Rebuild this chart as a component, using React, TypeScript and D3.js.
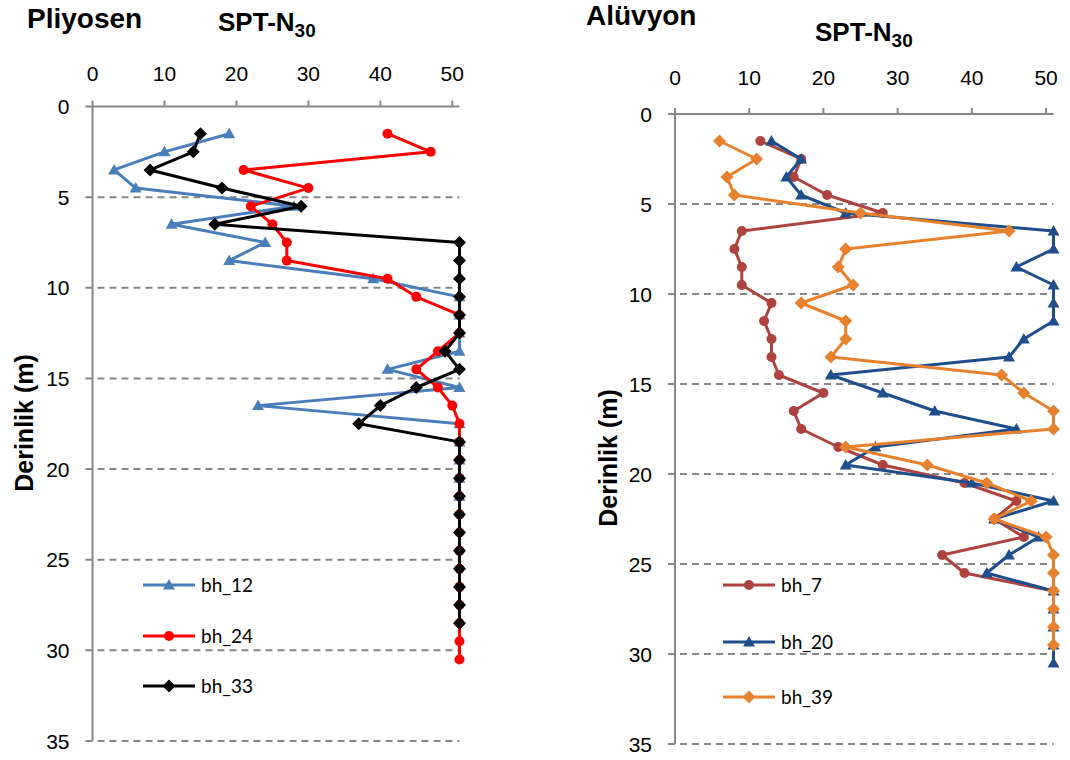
import React from "react";
import * as d3 from "d3";

// depth (m) and SPT-N30 readings per borehole
const bh12Depth = [1.5, 2.5, 3.5, 4.5, 5.5, 6.5, 7.5, 8.5, 9.5, 10.5, 11.5, 12.5, 13.5, 14.5, 15.5, 16.5, 17.5, 18.5, 19.5, 20.5, 21.5];
const bh12N = [19, 10, 3, 6, 28, 11, 24, 19, 39, 51, 51, 51, 51, 41, 51, 23, 51, 51, 51, 51, 51];

const bh24Depth = [1.5, 2.5, 3.5, 4.5, 5.5, 6.5, 7.5, 8.5, 9.5, 10.5, 11.5, 12.5, 13.5, 14.5, 15.5, 16.5, 17.5, 18.5, 19.5, 20.5, 21.5, 22.5, 23.5, 24.5, 25.5, 26.5, 27.5, 28.5, 29.5, 30.5];
const bh24N = [41, 47, 21, 30, 22, 25, 27, 27, 41, 45, 51, 51, 48, 45, 48, 50, 51, 51, 51, 51, 51, 51, 51, 51, 51, 51, 51, 51, 51, 51];

const bh33Depth = [1.5, 2.5, 3.5, 4.5, 5.5, 6.5, 7.5, 8.5, 9.5, 10.5, 11.5, 12.5, 13.5, 14.5, 15.5, 16.5, 17.5, 18.5, 19.5, 20.5, 21.5, 22.5, 23.5, 24.5, 25.5, 26.5, 27.5, 28.5];
const bh33N = [15, 14, 8, 18, 29, 17, 51, 51, 51, 51, 51, 51, 49, 51, 45, 40, 37, 51, 51, 51, 51, 51, 51, 51, 51, 51, 51, 51];

const bh7Depth = [1.5, 2.5, 3.5, 4.5, 5.5, 6.5, 7.5, 8.5, 9.5, 10.5, 11.5, 12.5, 13.5, 14.5, 15.5, 16.5, 17.5, 18.5, 19.5, 20.5, 21.5, 22.5, 23.5, 24.5, 25.5, 26.5];
const bh7N = [11.5, 17, 16, 20.5, 28, 9, 8, 9, 9, 13, 12, 13, 13, 14, 20, 16, 17, 22, 28, 39, 46, 43, 47, 36, 39, 51];

const bh20Depth = [1.5, 2.5, 3.5, 4.5, 5.5, 6.5, 7.5, 8.5, 9.5, 10.5, 11.5, 12.5, 13.5, 14.5, 15.5, 16.5, 17.5, 18.5, 19.5, 20.5, 21.5, 22.5, 23.5, 24.5, 25.5, 26.5, 27.5, 28.5, 29.5, 30.5];
const bh20N = [13, 17, 15, 17, 23, 51, 51, 46, 51, 51, 51, 47, 45, 21, 28, 35, 46, 27, 23, 40, 51, 43, 49, 45, 42, 51, 51, 51, 51, 51];

const bh39Depth = [1.5, 2.5, 3.5, 4.5, 5.5, 6.5, 7.5, 8.5, 9.5, 10.5, 11.5, 12.5, 13.5, 14.5, 15.5, 16.5, 17.5, 18.5, 19.5, 20.5, 21.5, 22.5, 23.5, 24.5, 25.5, 26.5, 27.5, 28.5, 29.5];
const bh39N = [6, 11, 7, 8, 25, 45, 23, 22, 24, 17, 23, 23, 21, 44, 47, 51, 51, 23, 34, 42, 48, 43, 50, 51, 51, 51, 51, 51, 51];

const xTicks = [0, 10, 20, 30, 40, 50];
const yTicks = [0, 5, 10, 15, 20, 25, 30, 35];

const AXIS = "#878787";
const FONT = "'Liberation Sans', Arial, sans-serif";

type Series = { name: string; depth: number[]; n: number[]; color: string; marker: string };

const leftSeries: Series[] = [
  { name: "bh_12", depth: bh12Depth, n: bh12N, color: "#4A7EBB", marker: "triangle" },
  { name: "bh_24", depth: bh24Depth, n: bh24N, color: "#FF0000", marker: "circle" },
  { name: "bh_33", depth: bh33Depth, n: bh33N, color: "#000000", marker: "diamond" },
];

const rightSeries: Series[] = [
  { name: "bh_7", depth: bh7Depth, n: bh7N, color: "#AE423E", marker: "circle" },
  { name: "bh_20", depth: bh20Depth, n: bh20N, color: "#1F4E8C", marker: "triangle" },
  { name: "bh_39", depth: bh39Depth, n: bh39N, color: "#E8812E", marker: "diamond" },
];

const Marker = ({ kind, x, y, color }: { kind: string; x: number; y: number; color: string }) => {
  if (kind === "circle") return <circle cx={x} cy={y} r={5} fill={color} />;
  if (kind === "diamond")
    return <path d={`M${x},${y - 6.5}L${x + 6.5},${y}L${x},${y + 6.5}L${x - 6.5},${y}Z`} fill={color} />;
  return <path d={`M${x},${y - 6}L${x + 6},${y + 4.5}L${x - 6},${y + 4.5}Z`} fill={color} />;
};

const Panel = (props: {
  x0: number; x1: number; y0: number; y1: number;
  title: string; titleX: number; titleY: number;
  sptX: number; sptY: number; tickY: number;
  labelX: number; labelY: number;
  series: Series[]; legX: number; legY: number[];
}) => {
  const { x0, x1, y0, y1, series } = props;
  const x = d3.scaleLinear().domain([0, 51]).range([x0, x1]);
  const y = d3.scaleLinear().domain([0, 35]).range([y0, y1]);
  const line = d3.line<[number, number]>().x((d) => x(d[0])).y((d) => y(d[1]));

  return (
    <g fontFamily={FONT}>
      <text x={props.titleX} y={props.titleY} fontSize={28} fontWeight="bold">{props.title}</text>
      <text x={props.sptX} y={props.sptY} fontSize={26} fontWeight="bold">
        SPT-N<tspan fontSize={19} dy={6}>30</tspan>
      </text>

      {/* gridlines */}
      {yTicks.slice(1).map((t) => (
        <line key={"g" + t} x1={x0 - 7} x2={x1} y1={y(t)} y2={y(t)} stroke={AXIS} strokeWidth={2} strokeDasharray="7,5" />
      ))}

      {/* axes */}
      <line x1={x0} x2={x0} y1={y0} y2={y1} stroke={AXIS} strokeWidth={2} />
      <line x1={x0 - 7} x2={x1} y1={y0} y2={y0} stroke={AXIS} strokeWidth={2} />
      {xTicks.map((t) => (
        <g key={"x" + t}>
          <line x1={x(t)} x2={x(t)} y1={y0} y2={y0 - 6} stroke={AXIS} strokeWidth={2} />
          <text x={x(t)} y={props.tickY} fontSize={21} textAnchor="middle">{t}</text>
        </g>
      ))}
      {yTicks.map((t) => (
        <text key={"y" + t} x={x0 - 23} y={y(t)} dy="0.36em" fontSize={21} textAnchor="end">{t}</text>
      ))}
      <text
        transform={`translate(${props.labelX},${props.labelY}) rotate(-90)`}
        fontSize={25}
        fontWeight="bold"
        textAnchor="middle"
      >
        Derinlik (m)
      </text>

      {/* series */}
      {series.map((s) => {
        const pts = s.n.map((v, i) => [v, s.depth[i]] as [number, number]);
        return (
          <g key={s.name}>
            <path d={line(pts) || ""} fill="none" stroke={s.color} strokeWidth={3} strokeLinejoin="round" />
            {pts.map((p, i) => (
              <Marker key={i} kind={s.marker} x={x(p[0])} y={y(p[1])} color={s.color} />
            ))}
          </g>
        );
      })}

      {/* legend */}
      {series.map((s, i) => (
        <g key={"l" + s.name}>
          <line x1={props.legX} x2={props.legX + 52} y1={props.legY[i]} y2={props.legY[i]} stroke={s.color} strokeWidth={3} />
          <Marker kind={s.marker} x={props.legX + 26} y={props.legY[i]} color={s.color} />
          <text x={props.legX + 58} y={props.legY[i]} dy="0.35em" fontSize={19} fontFamily="Lato, sans-serif">{s.name}</text>
        </g>
      ))}
    </g>
  );
};

export default function App() {
  return (
    <svg width={1070} height={760} style={{ position: "absolute", left: 0, top: 0, background: "#fff" }}>
      <Panel
        x0={92.5} x1={459.5} y0={106.5} y1={741}
        title="Pliyosen" titleX={27} titleY={28}
        sptX={218} sptY={31} tickY={81}
        labelX={33} labelY={423}
        series={leftSeries} legX={143} legY={[585, 636, 686]}
      />
      <Panel
        x0={675} x1={1053.5} y0={114} y1={744}
        title="Alüvyon" titleX={586} titleY={25}
        sptX={815} sptY={41} tickY={85}
        labelX={617} labelY={458}
        series={rightSeries} legX={723} legY={[585, 642, 697]}
      />
    </svg>
  );
}
